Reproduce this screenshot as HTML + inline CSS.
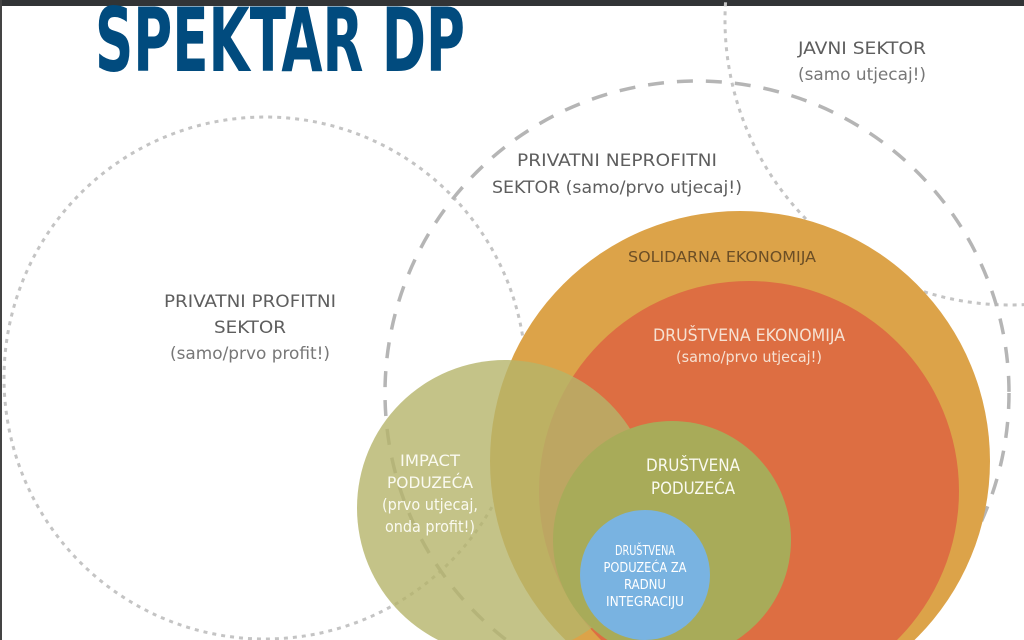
<!DOCTYPE html>
<html><head><meta charset="utf-8"><style>
html,body{margin:0;padding:0;background:#fff;width:1024px;height:640px;overflow:hidden;}
svg{display:block;}
text{font-family:"DejaVu Sans Condensed","Liberation Sans",sans-serif;}
</style></head><body>
<svg width="1024" height="640" viewBox="0 0 1024 640" xmlns="http://www.w3.org/2000/svg">
<rect width="1024" height="640" fill="#fff"/>
<rect x="0" y="0" width="1024" height="6" fill="#323436"/>
<rect x="0" y="0" width="2" height="640" fill="#444"/>
<circle cx="265" cy="378" r="261" fill="none" stroke="#c4c4c4" stroke-width="3" stroke-dasharray="4 5"/>
<circle cx="1010" cy="20" r="285" fill="none" stroke="#c4c4c4" stroke-width="3" stroke-dasharray="4 5"/>
<circle cx="697" cy="393" r="312" fill="none" stroke="#b5b5b5" stroke-width="3.5" stroke-dasharray="16 13"/>
<circle cx="740" cy="461" r="250" fill="#dca349"/>
<circle cx="749" cy="491" r="210" fill="#dd6e42"/>
<circle cx="505" cy="508" r="148" fill="#b5b46a" fill-opacity="0.8"/>
<circle cx="672" cy="540" r="119" fill="#a8ab59"/>
<circle cx="645" cy="575" r="65" fill="#79b3e1"/>
<text x="95" y="71" font-weight="bold" font-size="88" fill="#014b7e" textLength="370" lengthAdjust="spacingAndGlyphs">SPEKTAR DP</text>
<g fill="#5e5e5e" font-size="17" text-anchor="middle">
<text x="862" y="54" textLength="128" lengthAdjust="spacingAndGlyphs">JAVNI SEKTOR</text>
<text x="862" y="80" fill="#777" textLength="128" lengthAdjust="spacingAndGlyphs">(samo utjecaj!)</text>
<text x="617" y="166" textLength="200" lengthAdjust="spacingAndGlyphs">PRIVATNI NEPROFITNI</text>
<text x="617" y="193" textLength="250" lengthAdjust="spacingAndGlyphs">SEKTOR (samo/prvo utjecaj!)</text>
<text x="250" y="307" textLength="172" lengthAdjust="spacingAndGlyphs">PRIVATNI PROFITNI</text>
<text x="250" y="333" textLength="72" lengthAdjust="spacingAndGlyphs">SEKTOR</text>
<text x="250" y="359" fill="#777" textLength="160" lengthAdjust="spacingAndGlyphs">(samo/prvo profit!)</text>
<text x="722" y="262" fill="#6b4e26" textLength="188" font-size="15" lengthAdjust="spacingAndGlyphs">SOLIDARNA EKONOMIJA</text>
</g>
<g fill="#f6e1d2" text-anchor="middle">
<text x="749" y="341" font-size="17" textLength="192" lengthAdjust="spacingAndGlyphs">DRUŠTVENA EKONOMIJA</text>
<text x="749" y="362" font-size="15" textLength="146" lengthAdjust="spacingAndGlyphs">(samo/prvo utjecaj!)</text>
</g>
<g fill="#fafaf0" text-anchor="middle" font-size="16">
<text x="430" y="466" textLength="60" lengthAdjust="spacingAndGlyphs">IMPACT</text>
<text x="430" y="488" textLength="86" lengthAdjust="spacingAndGlyphs">PODUZEĆA</text>
<text x="430" y="510" textLength="96" lengthAdjust="spacingAndGlyphs">(prvo utjecaj,</text>
<text x="430" y="532" textLength="90" lengthAdjust="spacingAndGlyphs">onda profit!)</text>
</g>
<g fill="#fafaf0" text-anchor="middle" font-size="17">
<text x="693" y="471" textLength="94" lengthAdjust="spacingAndGlyphs">DRUŠTVENA</text>
<text x="693" y="494" textLength="84" lengthAdjust="spacingAndGlyphs">PODUZEĆA</text>
</g>
<g fill="#ffffff" text-anchor="middle" font-size="13">
<text x="645" y="555" textLength="60" lengthAdjust="spacingAndGlyphs">DRUŠTVENA</text>
<text x="645" y="572" textLength="83" lengthAdjust="spacingAndGlyphs">PODUZEĆA ZA</text>
<text x="645" y="589" textLength="42" lengthAdjust="spacingAndGlyphs">RADNU</text>
<text x="645" y="606" textLength="78" lengthAdjust="spacingAndGlyphs">INTEGRACIJU</text>
</g>
</svg>
</body></html>
